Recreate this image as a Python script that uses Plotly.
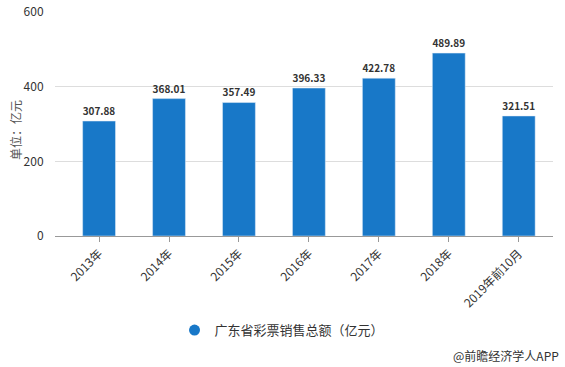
import plotly.graph_objects as go

categories = ["2013年", "2014年", "2015年", "2016年", "2017年", "2018年", "2019年前10月"]
values = [307.88, 368.01, 357.49, 396.33, 422.78, 489.89, 321.51]
series_name = "广东省彩票销售总额（亿元）"
y_ticks = [0, 200, 400, 600]

FONT = "Noto Sans CJK SC, Microsoft YaHei, sans-serif"
BLUE = "#1878c8"

fig = go.Figure()
fig.add_trace(go.Bar(
    x=list(range(len(categories))), y=values, name=series_name,
    marker=dict(color=BLUE), width=0.47,
    text=[f"{v:.2f}" for v in values], textposition="outside",
    textfont=dict(family=FONT, size=13, color="#333333", weight="bold"),
    cliponaxis=False, showlegend=False,
))
fig.add_trace(go.Scatter(
    x=[None], y=[None], mode="markers", name=series_name,
    marker=dict(symbol="circle", size=11, color=BLUE),
))

fig.update_layout(
    width=565, height=367,
    margin=dict(l=55, r=12, t=12, b=131, autoexpand=False),
    paper_bgcolor="white", plot_bgcolor="white",
    font=dict(family=FONT, size=12, color="#333333"),
    xaxis=dict(
        range=[-0.63, 6.49], tickmode="array", automargin=False,
        tickvals=list(range(len(categories))), ticktext=categories,
        tickangle=-45, showgrid=False, showline=True, linecolor="#999999",
        ticks="outside", ticklen=5, tickcolor="#999999",
        tickfont=dict(size=12, color="#333333"), zeroline=False,
    ),
    yaxis=dict(
        range=[0, 600], tickvals=y_ticks, showgrid=True, gridcolor="#dddddd",
        zeroline=False, showline=False, ticks="outside", ticklen=8, automargin=False,
        tickcolor="rgba(0,0,0,0)", tickfont=dict(size=12, color="#333333"),
    ),
    legend=dict(orientation="h", x=0.24, y=-0.42, xanchor="left", yanchor="middle",
                font=dict(size=13, color="#333333"), bgcolor="rgba(0,0,0,0)"),
    bargap=0.5,
)
fig.add_annotation(
    text="单位：亿元", xref="paper", yref="paper", textangle=-90,
    x=(15 - 55) / 498, y=(236 - 130) / 224, xanchor="center", yanchor="middle",
    showarrow=False, font=dict(size=12, color="#555555"),
)
fig.add_annotation(
    text="@前瞻经济学人APP", xref="paper", yref="paper",
    x=(561 - 55) / 498, y=(236 - 355) / 224, xanchor="right", yanchor="middle",
    showarrow=False, font=dict(size=12, color="#333333"),
)
fig.write_html(
    "out.html",
    config={"displayModeBar": False},
    post_script="document.body.style.margin='0';document.body.style.overflow='hidden';",
)
